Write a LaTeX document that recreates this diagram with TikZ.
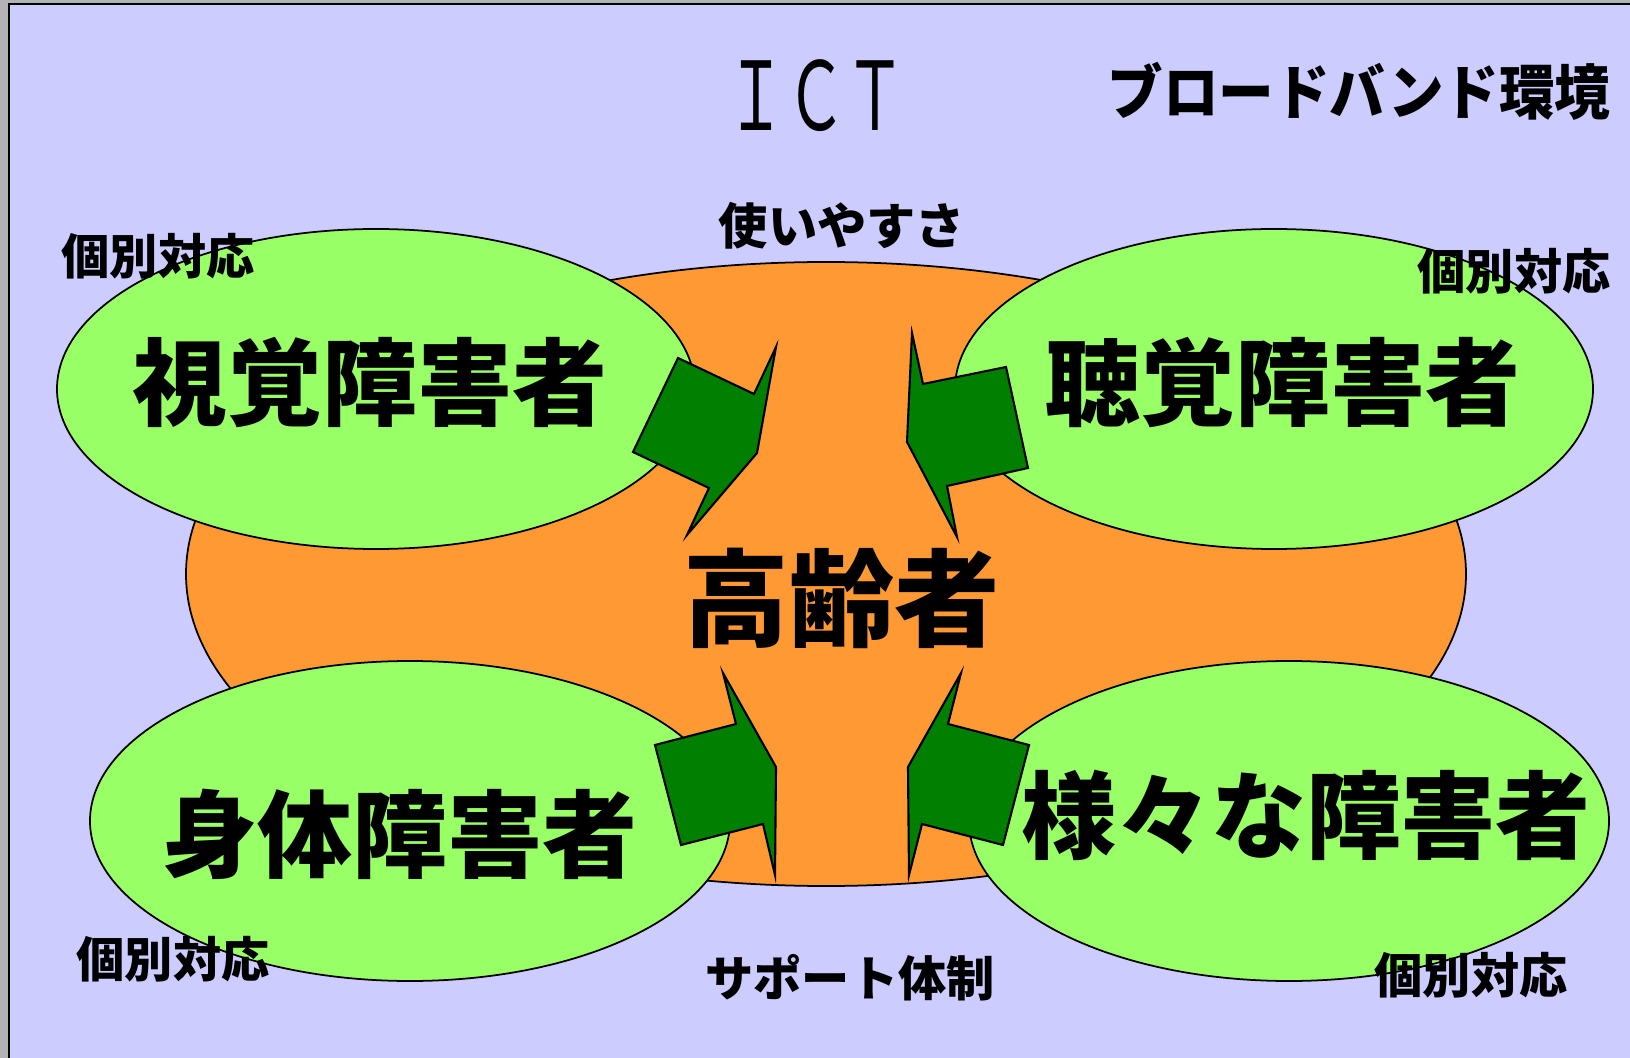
\documentclass[tikz,border=0pt]{standalone}
\usepackage{fontspec}
\usepackage{tikz}
\newfontfamily\jp{Noto Sans CJK JP}

\definecolor{frame}{HTML}{B3B3B3}
\definecolor{lav}{HTML}{CCCCFF}
\definecolor{orng}{HTML}{FF9933}
\definecolor{lgrn}{HTML}{99FF66}
\definecolor{dgrn}{HTML}{007F00}

\begin{document}
\begin{tikzpicture}[x=0.01cm,y=-0.01cm,
  ell/.style={draw=black,line width=0.5pt},
  arw/.style={draw=black,fill=dgrn,line width=0.6pt,line join=miter},
  big/.style={font=\jp\bfseries\fontsize{27}{27}\selectfont},
  small/.style={font=\jp\bfseries\fontsize{13.7}{14}\selectfont}]

\useasboundingbox (0,0) rectangle (1630,1058);
\fill[frame] (0,0) rectangle (1630,1058);
\draw[fill=lav,line width=0.8pt] (9,4) rectangle (1650,1080);

\coordinate (O) at (826,574);
\coordinate (A) at (376,389);
\coordinate (B) at (1274,389);
\coordinate (C) at (410,821);
\coordinate (D) at (1289,821);

\fill[orng,ell] (O) ellipse [x radius=640, y radius=312];
\fill[lgrn,ell] (A) ellipse [x radius=319, y radius=160];
\fill[lgrn,ell] (B) ellipse [x radius=319, y radius=160];
\fill[lgrn,ell] (C) ellipse [x radius=320, y radius=160];
\fill[lgrn,ell] (D) ellipse [x radius=320, y radius=160];

\draw[arw] (633,452) -- (678,358) -- (754,394) -- (776,347)
  -- (757,453) -- (687,535) -- (709,488) -- cycle;
\draw[arw] (912,333) -- (923,384) -- (1006,367) -- (1028,468)
  -- (947,486) -- (957,537) -- (907,442) -- cycle;
\draw[arw] (655,745) -- (736,724) -- (723,673) -- (776,767)
  -- (775,875) -- (763,824) -- (681,845) -- cycle;
\draw[arw] (961,673) -- (948,724) -- (1029,745) -- (1003,845)
  -- (922,824) -- (909,875) -- (908,767) -- cycle;

\node (ict) at (816,96) {\scalebox{0.63}[1]{\jp\fontsize{27}{27}\selectfont ＩＣＴ}};
\node (bb) at (1359,91) {\scalebox{0.93}[1]{\jp\bfseries\fontsize{17}{17}\selectfont ブロードバンド環境}};
\node[small,font=\jp\bfseries\fontsize{14}{14}\selectfont] (use) at (842,226) {使いやすさ};
\node[small] (sup) at (850,978) {サポート体制};

\node[small] (indA) at (158,256) {個別対応};
\node[small] (indB) at (1514,271) {個別対応};
\node[small] (indC) at (173,959) {個別対応};
\node[small] (indD) at (1471,975) {個別対応};

\node[big] (vis) at (370,383) {視覚障害者};
\node[big] (aud) at (1283,383) {聴覚障害者};
\node[big] (phy) at (400,834) {身体障害者};
\node[big] (var) at (1306,815) {様々な障害者};
\node[big,font=\jp\bfseries\fontsize{30}{30}\selectfont] (eld) at (842,598) {高齢者};

\end{tikzpicture}
\end{document}
